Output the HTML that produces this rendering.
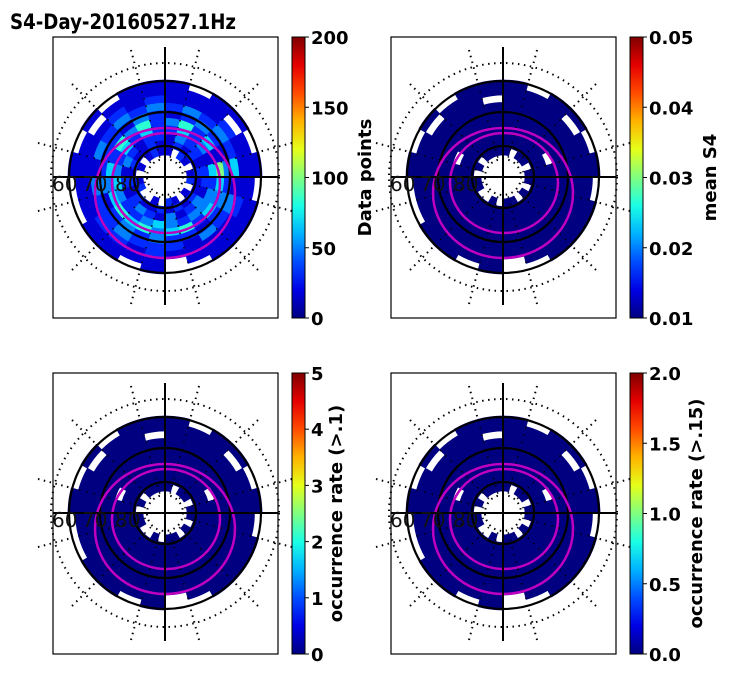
<!DOCTYPE html>
<html><head><meta charset="utf-8"><style>
body{margin:0;background:#fff;width:731px;height:674px;overflow:hidden}
svg{font-family:"DejaVu Sans","Liberation Sans",sans-serif}
</style></head><body>
<svg id="fig" width="731" height="674" xmlns="http://www.w3.org/2000/svg">
<text x="10" y="29" font-size="21" font-weight="bold" textLength="226" lengthAdjust="spacingAndGlyphs">S4-Day-20160527.1Hz</text>
</svg>
<script>
// ring data: inner -> outer, 24 sectors clockwise from top; digits 0-9 = fraction of colour scale, '.' = empty
const ringsP1=[
"1.21.12.1.12.1..21.1.121",
"121212112121211212121121",
"132212213213123212132122",
"242314233323432234324242",
"352416434254354543425352",
"123213232122323213222132",
"232324132312223223132323",
"111211121111212211111212",
"111.1111111.11111111.111",
"1.11.1.111..1.11..1.1.11"];
const ringsP2=[
"0.00.00.0.00.0..00.0.000",
"000000000000000000000000",
"000000000000000000000000",
"0000.00000000000000.0000",
"000000000000000000000000",
"000000000000000000000000",
"000000000000000000000000",
"00000000000000000000000.",
"000.0000000.00000000.000",
"0.00.0.000..0.00..0.0.00"];
const ringsP3=[
"0.00.00.0.00.0..00.0.000",
"000000000000000000000000",
"000000000000000000000000",
"0000.00000000000000.0000",
"000000000000000000000000",
"000000000000000000000000",
"000000000000000000000000",
"00000000000000000000000.",
"000.0000000.00000000.000",
"0.00.0.000..0.00..0.0.00"];
const ringsP4=ringsP2.slice();
const ticksP1=["0","50","100","150","200"];
const ticksP2=["0.01","0.02","0.03","0.04","0.05"];
const ticksP3=["0","1","2","3","4","5"];
const ticksP4=["0.0","0.5","1.0","1.5","2.0"];
const labels=["Data points","mean S4","occurrence rate (>.1)","occurrence rate (>.15)"];

const NS="http://www.w3.org/2000/svg";
const fig=document.getElementById('fig');
function mk(t,a,p){const e=document.createElementNS(NS,t);for(const k in a)e.setAttribute(k,a[k]);(p||fig).appendChild(e);return e;}
function jet(v){const c=x=>Math.max(0,Math.min(1,x));
 const r=c(1.5-Math.abs(4*v-3)),g=c(1.5-Math.abs(4*v-2)),b=c(1.5-Math.abs(4*v-1));
 return `rgb(${Math.round(r*255)},${Math.round(g*255)},${Math.round(b*255)})`;}
function arc(cx,cy,r0,r1,a0,a1){
 const p=(r,a)=>[cx+r*Math.sin(a),cy-r*Math.cos(a)];
 const [x1,y1]=p(r1,a0),[x2,y2]=p(r1,a1),[x3,y3]=p(r0,a1),[x4,y4]=p(r0,a0);
 return `M${x1},${y1}A${r1},${r1} 0 0 1 ${x2},${y2}L${x3},${y3}A${r0},${r0} 0 0 0 ${x4},${y4}Z`;}
function panel(ox,oy,rings,ticks,label,idx,loff,scale){
 const g=mk('g',{});
 
 
 const cx=ox+112,cy=oy+140;
 const rIn=22,rOut=97,n=rings.length,dr=(rOut-rIn)/n;
 rings.forEach((row,i)=>{
  for(let j=0;j<row.length;j++){
   const ch=row[j]; if(ch==='.')continue;
   const v=(+ch/9)*scale;
   const a0=j*2*Math.PI/row.length,a1=(j+1)*2*Math.PI/row.length;
   const col=jet(v);
   const p=mk('path',{d:arc(cx,cy,rIn+i*dr,rIn+(i+1)*dr,a0,a1),fill:col,stroke:col,'stroke-width':0.7},g);
   
   
  }});
 [18,114].forEach(r=>{const c=mk('circle',{cx,cy,r,fill:'none',stroke:'#000','stroke-width':2,'stroke-dasharray':'1.5 4.5'},g);});
 for(let k=0;k<12;k++){const a=k*Math.PI/6+Math.PI/12;
  const l=mk('line',{x1:cx+100*Math.sin(a),y1:cy-100*Math.cos(a),x2:cx+136*Math.sin(a),y2:cy-136*Math.cos(a),stroke:'#000','stroke-width':2,'stroke-dasharray':'1.5 4.5'},g);
  
  const l2=mk('line',{x1:cx+20*Math.sin(a),y1:cy-20*Math.cos(a),x2:cx+95*Math.sin(a),y2:cy-95*Math.cos(a),stroke:'#000','stroke-width':1.5,'stroke-dasharray':'1.5 6'},g);
  }
 [31,65,96].forEach(r=>{const c=mk('circle',{cx,cy,r,fill:'none',stroke:'#000','stroke-width':2.2},g);});
 const e1=mk('ellipse',{cx:cx,cy:cy+16,rx:70,ry:65,fill:'none',stroke:'#c000c0','stroke-width':2.5},g);
 
 const e2=mk('ellipse',{cx:cx+1,cy:cy+6,rx:54,ry:50,fill:'none',stroke:'#c000c0','stroke-width':2.5},g);
 
 mk('line',{x1:cx,y1:oy+10,x2:cx,y2:oy+268,stroke:'#000','stroke-width':2},g);
 mk('line',{x1:ox,y1:cy,x2:ox+225,y2:cy,stroke:'#000','stroke-width':2},g);
 [["60",ox-1],["70",ox+29],["80",ox+62]].forEach(([s,x])=>{
  const t=mk('text',{x:x,y:cy+14,'font-size':20,fill:'#111'},g);t.textContent=s;
  });
 const b=mk('rect',{x:ox,y:oy,width:225,height:281,fill:'none',stroke:'#000','stroke-width':1.2},g);
 
 const cbx=ox+239,cbh=281;
 const defs=mk('defs',{},g);const lg=mk('linearGradient',{id:'jg'+idx,x1:0,y1:1,x2:0,y2:0},defs);
 for(let s=0;s<=10;s++)mk('stop',{offset:s/10,'stop-color':jet(s/10)},lg);
 const cb=mk('rect',{x:cbx,y:oy,width:13,height:cbh,fill:`url(#jg${idx})`,stroke:'#000','stroke-width':1},g);
 
 ticks.forEach((tk,i)=>{const y=oy+cbh-i*cbh/(ticks.length-1);
  mk('line',{x1:cbx+13,y1:y,x2:cbx+17,y2:y,stroke:'#000'},g);
  const tt=mk('text',{x:cbx+19,y:y+7,'font-size':18,'font-weight':'bold'},g);tt.textContent=tk;
  });
 const lx=cbx+loff;
 const lt=mk('text',{x:lx,y:oy+cbh/2,'font-size':18,'font-weight':'bold','text-anchor':'middle',transform:`rotate(-90 ${lx} ${oy+cbh/2})`},g);
 lt.textContent=label;
}
panel(53,37,ringsP1,ticksP1,labels[0],1,79,0.75);
panel(391,37,ringsP2,ticksP2,labels[1],2,86,1);
panel(53,373,ringsP3,ticksP3,labels[2],3,50,1);
panel(391,373,ringsP4,ticksP4,labels[3],4,72,1);
</script>
</body></html>
